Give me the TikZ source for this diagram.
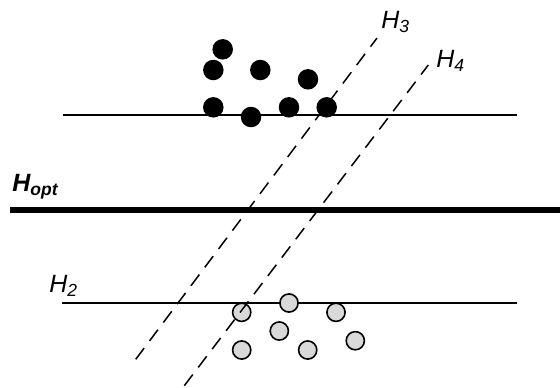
\documentclass[tikz,border=0pt]{standalone}
\usepackage{fontspec}
\setmainfont{Liberation Sans}
\newcommand{\mysub}[1]{\raisebox{-2pt}{\fontsize{8.75}{10}\selectfont #1}}
\begin{document}
\begin{tikzpicture}[x=0.5pt,y=-0.5pt,
  blackdot/.style={circle,fill=black,inner sep=0pt,minimum size=10.25pt},
  graydot/.style={circle,draw=black,line width=0.8pt,fill=gray!30,inner sep=0pt,minimum size=9.1pt},
  thinline/.style={line width=0.75pt},
  hyper/.style={line width=0.75pt,dash pattern=on 7pt off 4.5pt},
  lbl/.style={font=\fontsize{12.5}{14}\selectfont\itshape,inner sep=0pt}]
\useasboundingbox (0,0) rectangle (560,387);
% lines
\coordinate (t1) at (63,115); \coordinate (t2) at (517,115);
\coordinate (b1) at (62,303); \coordinate (b2) at (517,303);
\coordinate (o1) at (10,209.5); \coordinate (o2) at (560,209.5);
\draw[thinline] (t1) -- (t2);
\draw[thinline] (b1) -- (b2);
\draw[line width=3pt] (o1) -- (o2);
% black dots
\node[blackdot] (p1) at (222.7,49.3) {};
\node[blackdot] (p2) at (213.3,70) {};
\node[blackdot] (p3) at (260.3,70) {};
\node[blackdot] (p4) at (308,79.3) {};
\node[blackdot] (p5) at (213.3,107.3) {};
\node[blackdot] (p6) at (251,117) {};
\node[blackdot] (p7) at (289,107.3) {};
\node[blackdot] (p8) at (326.7,107.3) {};
% gray dots
\node[graydot] (q1) at (241.7,312.3) {};
\node[graydot] (q2) at (289,303) {};
\node[graydot] (q3) at (336,312.3) {};
\node[graydot] (q4) at (279.3,331) {};
\node[graydot] (q5) at (241.7,350) {};
\node[graydot] (q6) at (307.7,350) {};
\node[graydot] (q7) at (355.3,340.7) {};
% dashed hyperplanes
\coordinate (h3a) at (135.7,359.3); \coordinate (h3b) at (377,38);
\coordinate (h4a) at (184.3,385.7); \coordinate (h4b) at (428.3,65);
\draw[hyper] (h3a) -- (h3b);
\draw[hyper] (h4a) -- (h4b);
% labels
\node[lbl,anchor=base west] (l3) at (381,28.5) {H\mysub{3}};
\node[lbl,anchor=base west] (l4) at (436,67) {H\mysub{4}};
\node[lbl,anchor=base west] (l2) at (49,292) {H\mysub{2}};
\node[lbl,font=\fontsize{12.5}{14}\selectfont\bfseries\itshape,anchor=base west] (lo) at (12,191) {H\mysub{opt}};
\end{tikzpicture}
\end{document}
